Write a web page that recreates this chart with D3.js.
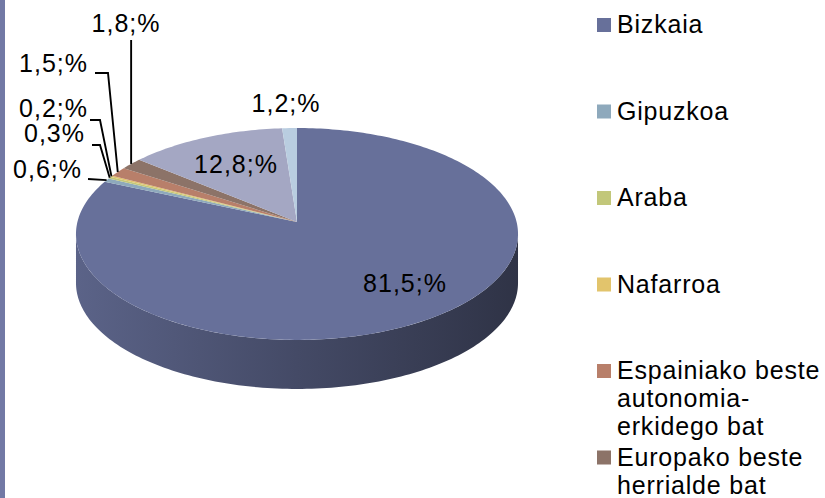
<!DOCTYPE html>
<html>
<head>
<meta charset="utf-8">
<script src="https://cdn.jsdelivr.net/npm/d3@7"></script>
<style>
  body { margin: 0; background: #fff; }
  svg { display: block; font-family: "Liberation Sans", Arial, sans-serif; }
</style>
</head>
<body>
<svg width="825" height="498"></svg>
<script>
// data
const categories = ['Bizkaia', 'Gipuzkoa', 'Araba', 'Nafarroa',
  'Espainiako beste autonomia-erkidego bat', 'Europako beste herrialde bat',
  'Beste herrialde bat', 'Ez daki / Ez du erantzun'];
const values = [81.5, 0.6, 0.3, 0.2, 1.5, 1.8, 12.8, 1.2];
const valueLabels = ['81,5;%', '0,6;%', '0,3%', '0,2;%', '1,5;%', '1,8;%', '12,8;%', '1,2;%'];
const legendLines = [['Bizkaia'], ['Gipuzkoa'], ['Araba'], ['Nafarroa'],
  ['Espainiako beste', 'autonomia-', 'erkidego bat'],
  ['Europako beste', 'herrialde bat'],
  ['Beste herrialde bat'], ['Ez daki / Ez du erantzun']];
const colors = ['#67709a', '#8ea9bc', '#c2c77a', '#e2c46c', '#b87f6a', '#8c7368', '#a4a7c3', '#b9cde0'];

// label placement (x, baseline y, anchor) and leader elbows
const labelPlace = [
  [405, 292, 'middle'], [82, 178, 'end'], [85, 142, 'end'], [88, 117, 'end'],
  [88, 72, 'end'], [126, 32, 'middle'], [236, 173, 'middle'], [286, 112, 'middle']
];
const leaderElbows = [null, [[88, 179]], [[92, 145], [100, 145]], [[90, 120], [100, 120]],
  [[95, 73], [108, 73]], 'vertical', null, null];

const svg = d3.select('svg');
const width = +svg.attr('width');
const height = +svg.attr('height');

// left frame strip
svg.append('rect').attr('x', 0).attr('y', 0).attr('width', 5).attr('height', height).attr('fill', '#7279a5');

// perspective pie geometry
const cx = 297, cy = 222, ax = 219.6, by = 104.6, k = 0.113, depth = 49;
const proj = (t, r = 1) => {
  const u = r * Math.sin(t), v = r * Math.cos(t), den = 1 + k * v;
  return [cx + ax * u / den, cy - by * v / den];
};
const arcPts = (a0, a1) => {
  const n = Math.max(2, Math.ceil((a1 - a0) / 0.02));
  return d3.range(n + 1).map(i => proj(a0 + (a1 - a0) * i / n));
};
const line = d3.line();

const data = categories.map((c, i) => ({ name: c, value: values[i], color: colors[i], i }));
const arcs = d3.pie().sort(null).value(d => d.value)(data);

const defs = svg.append('defs');
const rx = ax / Math.sqrt(1 - k * k);
const g = svg.append('g');

// sides (only the front half is visible)
const frontA = Math.acos(-k), frontB = 2 * Math.PI - Math.acos(-k);
arcs.forEach(a => {
  const s = Math.max(a.startAngle, frontA), e = Math.min(a.endAngle, frontB);
  if (e <= s) return;
  const base = d3.color(a.data.color);
  const grad = defs.append('linearGradient').attr('id', 'side' + a.data.i)
    .attr('gradientUnits', 'userSpaceOnUse')
    .attr('x1', cx - rx).attr('x2', cx + rx).attr('y1', 0).attr('y2', 0);
  [[0, 0.35], [0.5, 1.15], [1, 2.2]].forEach(([o, dk]) =>
    grad.append('stop').attr('offset', o).attr('stop-color', base.darker(dk)));
  const top = arcPts(s, e);
  const bottom = top.slice().reverse().map(([x, y]) => [x, y + depth]);
  g.append('path').attr('d', line(top.concat(bottom)) + 'Z')
    .attr('fill', `url(#side${a.data.i})`);
});

// top faces
arcs.forEach(a => {
  g.append('path')
    .attr('d', line([[cx, cy]].concat(arcPts(a.startAngle, a.endAngle))) + 'Z')
    .attr('fill', a.data.color);
});

// leader lines
arcs.forEach((a, i) => {
  const el = leaderElbows[i];
  if (!el) return;
  const edge = proj((a.startAngle + a.endAngle) / 2);
  const pts = el === 'vertical' ? [[edge[0], 40], edge] : el.concat([edge]);
  svg.append('path').attr('d', line(pts)).attr('fill', 'none')
    .attr('stroke', '#000').attr('stroke-width', 1.9);
});

// data labels
svg.selectAll('text.val').data(arcs).enter().append('text')
  .attr('class', 'val')
  .attr('x', (d, i) => labelPlace[i][0])
  .attr('y', (d, i) => labelPlace[i][1])
  .attr('text-anchor', (d, i) => labelPlace[i][2])
  .attr('font-size', 25).attr('letter-spacing', 1).attr('fill', '#000')
  .text((d, i) => valueLabels[i]);

// legend
const lg = svg.append('g');
let ly = 33;
legendLines.forEach((lines, i) => {
  lg.append('rect').attr('x', 597).attr('y', ly - 15).attr('width', 14).attr('height', 14)
    .attr('fill', colors[i]);
  const t = lg.append('text').attr('x', 617).attr('y', ly)
    .attr('font-size', 25).attr('letter-spacing', 0.8).attr('fill', '#000');
  lines.forEach((l, j) => t.append('tspan').attr('x', 617).attr('dy', j ? 28 : 0).text(l));
  ly += Math.max(86.5, lines.length * 28);
});
</script>
</body>
</html>
